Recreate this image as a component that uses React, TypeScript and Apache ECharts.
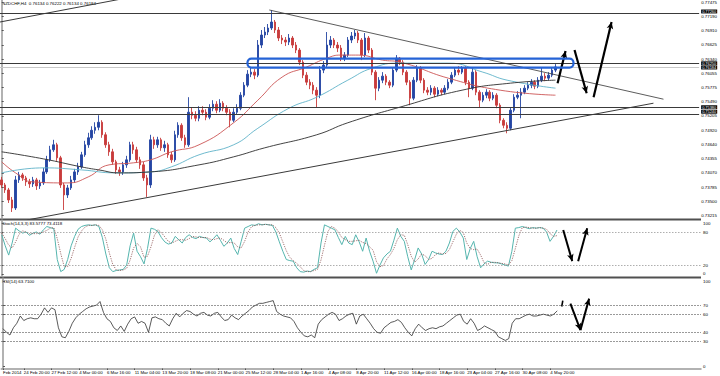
import React, { useEffect, useRef } from "react";
import * as echarts from "echarts";

const SLOTS = 202;
const firstOpen = 0.7393;
const closes = [
  0.7383, 0.7373, 0.7353, 0.7337, 0.7393, 0.7403, 0.7397, 0.7389, 0.7385, 0.7393,
  0.7381, 0.7387, 0.7409, 0.7433, 0.7453, 0.7463, 0.7437, 0.7383, 0.7363, 0.7377,
  0.7393, 0.7409, 0.7419, 0.7443, 0.7463, 0.7477, 0.7492, 0.7498, 0.7508, 0.7483,
  0.7463, 0.7449, 0.7429, 0.7413, 0.7409, 0.7423, 0.7433, 0.7463, 0.7453, 0.7433,
  0.7423, 0.7397, 0.7383, 0.7473, 0.7463, 0.7473, 0.7457, 0.7463, 0.7443, 0.7433,
  0.7483, 0.7502, 0.7477, 0.7463, 0.7528, 0.7522, 0.7516, 0.7532, 0.7528, 0.7518,
  0.7536, 0.7544, 0.7532, 0.7546, 0.7536, 0.7528, 0.7512, 0.7528, 0.7536, 0.7562,
  0.7582, 0.7604, 0.7608, 0.7602, 0.7662, 0.7682, 0.7688, 0.7696, 0.7708, 0.7692,
  0.7676, 0.7672, 0.7668, 0.7676, 0.7662, 0.7652, 0.7628, 0.7602, 0.7588, 0.7582,
  0.7572, 0.7562, 0.7612, 0.7622, 0.7662, 0.7672, 0.7662, 0.7656, 0.7636, 0.7642,
  0.7672, 0.768, 0.7686, 0.7672, 0.7642, 0.7676, 0.7652, 0.7608, 0.7576, 0.7592,
  0.76, 0.7588, 0.7582, 0.7612, 0.7636, 0.7628, 0.7608, 0.7588, 0.7556, 0.7592,
  0.7616, 0.7592, 0.7572, 0.7568, 0.7576, 0.7564, 0.7572, 0.7568, 0.7576, 0.7588,
  0.7602, 0.7612, 0.7608, 0.7616, 0.7588, 0.7576, 0.7608, 0.7568, 0.7552, 0.7562,
  0.7568, 0.7556, 0.7562, 0.7542, 0.7512, 0.7502, 0.7496, 0.7532, 0.7558, 0.7562,
  0.7568, 0.7576, 0.7582, 0.7588, 0.758, 0.7592, 0.76, 0.7596, 0.7602, 0.7612,
  0.76184,
];
const highs = [
  0.7399, 0.7387, 0.7377, 0.7359, 0.7401, 0.7409, 0.7407, 0.7401, 0.7395, 0.7399,
  0.7397, 0.7393, 0.7417, 0.7441, 0.7461, 0.7473, 0.7467, 0.7441, 0.7387, 0.7383,
  0.7401, 0.7415, 0.7427, 0.7449, 0.7471, 0.7487, 0.75, 0.7508, 0.7522, 0.7512,
  0.7488, 0.7469, 0.7455, 0.7433, 0.7419, 0.7429, 0.7441, 0.7469, 0.7469, 0.7459,
  0.7439, 0.7429, 0.7403, 0.7483, 0.7479, 0.7479, 0.7477, 0.7471, 0.7467, 0.7449,
  0.7491, 0.7508, 0.7506, 0.7483, 0.7558, 0.7538, 0.753, 0.754, 0.754, 0.7534,
  0.7544, 0.7552, 0.755, 0.7554, 0.755, 0.7542, 0.7534, 0.7536, 0.7544, 0.7568,
  0.7588, 0.7612, 0.7618, 0.7614, 0.7672, 0.7692, 0.7698, 0.7704, 0.7732, 0.7712,
  0.7698, 0.7682, 0.7678, 0.7684, 0.768, 0.7668, 0.7656, 0.7632, 0.7608, 0.7594,
  0.7588, 0.7578, 0.762, 0.763, 0.7688, 0.768, 0.7676, 0.7668, 0.7662, 0.7648,
  0.7678, 0.7688, 0.7692, 0.769, 0.7676, 0.7686, 0.768, 0.7656, 0.7612, 0.7598,
  0.7608, 0.7604, 0.7592, 0.7618, 0.7642, 0.7638, 0.7632, 0.7612, 0.7592, 0.7598,
  0.7622, 0.762, 0.7596, 0.7578, 0.7582, 0.758, 0.7578, 0.7576, 0.7582, 0.7594,
  0.7608, 0.7618, 0.762, 0.762, 0.762, 0.7592, 0.7616, 0.7612, 0.7572, 0.7568,
  0.7574, 0.7572, 0.7568, 0.7566, 0.7546, 0.7516, 0.7508, 0.7538, 0.7564, 0.757,
  0.7576, 0.7582, 0.7588, 0.7594, 0.7592, 0.7598, 0.7618, 0.7606, 0.7608, 0.7618,
  0.7624,
];
const lows = [
  0.7377, 0.7367, 0.7347, 0.7329, 0.7333, 0.7387, 0.7391, 0.7381, 0.7377, 0.7379,
  0.7373, 0.7375, 0.7383, 0.7405, 0.7429, 0.7449, 0.7431, 0.7377, 0.7333, 0.7357,
  0.7373, 0.7387, 0.7403, 0.7415, 0.7439, 0.7457, 0.7473, 0.7485, 0.7492, 0.7477,
  0.7457, 0.7441, 0.7423, 0.7405, 0.7401, 0.7403, 0.7417, 0.7429, 0.7445, 0.7427,
  0.7415, 0.7391, 0.7359, 0.7377, 0.7455, 0.7457, 0.7451, 0.7449, 0.7437, 0.7427,
  0.7429, 0.7477, 0.7471, 0.7457, 0.7459, 0.7514, 0.751, 0.751, 0.7522, 0.7512,
  0.7514, 0.753, 0.7526, 0.7528, 0.753, 0.7522, 0.7498, 0.7508, 0.7524, 0.7532,
  0.7558, 0.7578, 0.7598, 0.7594, 0.7598, 0.7656, 0.7676, 0.7682, 0.7692, 0.7686,
  0.767, 0.7664, 0.766, 0.7662, 0.7656, 0.7646, 0.7622, 0.7596, 0.7582, 0.7574,
  0.7564, 0.7538, 0.7556, 0.7606, 0.7618, 0.7656, 0.7656, 0.7648, 0.763, 0.763,
  0.7638, 0.7666, 0.7674, 0.7666, 0.7632, 0.7638, 0.7646, 0.7602, 0.7552, 0.757,
  0.7586, 0.7582, 0.7576, 0.7578, 0.7608, 0.7622, 0.7602, 0.7582, 0.7542, 0.7552,
  0.7588, 0.7586, 0.7566, 0.7562, 0.7562, 0.7558, 0.756, 0.7562, 0.7564, 0.7572,
  0.7584, 0.7598, 0.7602, 0.7604, 0.7582, 0.7558, 0.7572, 0.7562, 0.7538, 0.7548,
  0.7556, 0.755, 0.7552, 0.7536, 0.7506, 0.7496, 0.7486, 0.7492, 0.7528, 0.7554,
  0.7516, 0.7564, 0.7572, 0.7576, 0.7574, 0.7576, 0.7588, 0.759, 0.7592, 0.7598,
  0.7608,
];

// moving averages: [bar index, price]
const ma50 = [
  [0, 0.7429], [4, 0.7407], [9, 0.7389], [19, 0.7387], [25, 0.7399], [31, 0.7423],
  [38, 0.7427], [43, 0.7433], [49, 0.7449], [57, 0.7463], [67, 0.7507], [74, 0.7552],
  [81, 0.7598], [88, 0.7618], [94, 0.7636], [98, 0.7642], [103, 0.7642], [110, 0.7632],
  [115, 0.7628], [129, 0.7596], [144, 0.7572], [160, 0.7562],
];
const ma100 = [
  [0, 0.7407], [12, 0.7417], [23, 0.7413], [33, 0.7407], [43, 0.7409], [49, 0.7419],
  [57, 0.7443], [67, 0.7463], [74, 0.7496], [83, 0.7536], [91, 0.7558], [100, 0.7592],
  [107, 0.7616], [115, 0.7626], [129, 0.7626], [139, 0.7608], [146, 0.7592], [160, 0.7576],
];
const ma200 = [
  [0, 0.7449], [12, 0.7435], [23, 0.7419], [28, 0.7413], [34, 0.7407], [43, 0.7409],
  [57, 0.7423], [67, 0.7439], [76, 0.7457], [91, 0.7483], [100, 0.7507], [115, 0.7538],
  [133, 0.7572], [147, 0.7586], [160, 0.7592],
];

const stochK = [
  75, 55, 38, 60, 87, 82, 78, 80, 74, 78,
  80, 76, 84, 90, 88, 86, 30, 8, 12, 30,
  55, 72, 85, 90, 92, 93, 92, 93, 90, 70,
  40, 15, 8, 10, 11, 12, 20, 55, 78, 45,
  35, 22, 50, 87, 85, 81, 70, 62, 58, 60,
  72, 66, 60, 70, 75, 70, 68, 72, 70, 69,
  62, 68, 75, 65, 54, 60, 69, 50, 39, 63,
  87, 90, 93, 92, 95, 93, 94, 93, 92, 80,
  62, 45, 30, 28, 27, 15, 8, 7, 9, 8,
  12, 15, 60, 93, 90, 87, 84, 70, 57, 72,
  60, 57, 75, 62, 45, 69, 45, 27, 5, 20,
  33, 40, 45, 65, 87, 72, 63, 35, 11, 30,
  51, 40, 21, 30, 45, 42, 40, 39, 45, 60,
  81, 87, 80, 69, 30, 50, 63, 35, 15, 22,
  27, 25, 24, 24, 22, 20, 18, 45, 87, 88,
  90, 88, 86, 88, 87, 88, 87, 80, 63, 72,
  83.58,
];
const stochD = [
  78, 68, 56, 51, 62, 76, 82, 80, 77, 77,
  77, 78, 80, 83, 87, 88, 68, 41, 17, 17,
  32, 52, 71, 82, 89, 92, 92, 93, 92, 84,
  67, 42, 21, 11, 10, 11, 14, 29, 51, 59,
  53, 34, 36, 53, 74, 84, 79, 71, 63, 60,
  63, 66, 66, 65, 68, 72, 71, 70, 70, 70,
  67, 66, 68, 69, 65, 60, 61, 60, 53, 51,
  63, 80, 90, 92, 93, 93, 94, 93, 93, 88,
  78, 62, 46, 34, 28, 23, 17, 10, 8, 8,
  10, 12, 29, 56, 81, 90, 87, 80, 70, 66,
  63, 63, 64, 65, 61, 59, 53, 47, 26, 17,
  19, 31, 39, 50, 66, 75, 74, 57, 36, 25,
  31, 40, 37, 30, 32, 39, 42, 40, 41, 48,
  62, 76, 83, 79, 60, 50, 48, 49, 38, 24,
  21, 25, 25, 24, 23, 22, 20, 28, 50, 73,
  88, 89, 88, 87, 87, 88, 87, 85, 77, 72,
  73.41,
];
const rsi = [
  44, 40, 37, 45, 50, 58, 53, 55, 56, 55,
  55, 60, 67, 62, 67, 65, 45, 35, 34, 41,
  50, 56, 60, 63, 66, 68, 69, 70, 74, 62,
  55, 52, 45, 42, 47, 41, 49, 55, 57, 50,
  52, 50, 40, 56, 57, 55, 54, 50, 47, 55,
  61, 57, 61, 64, 63, 60, 58, 61, 62, 59,
  58, 61, 62, 57, 53, 54, 59, 56, 54, 58,
  61, 64, 68, 70, 72, 72, 73, 74, 75, 63,
  60, 58, 57, 56, 52, 45, 40, 36, 35, 37,
  34, 49, 54, 57, 60, 62, 60, 53, 55, 58,
  60, 61, 49, 58, 60, 55, 50, 44, 40, 39,
  45, 48, 51, 52, 54, 51, 45, 40, 36, 44,
  49, 45, 42, 44, 45, 44, 46, 47, 50, 53,
  56, 59, 60, 52, 49, 55, 50, 42, 44, 47,
  45, 43, 41, 35, 33, 31, 33, 50, 55, 55,
  57, 59, 60, 58, 58, 59, 60, 59, 58, 60,
  63.71,
];

const priceTicks = [
  0.77475, 0.7719, 0.7691, 0.76625, 0.7634, 0.76055, 0.75775, 0.7549,
  0.75205, 0.7492, 0.7464, 0.74355, 0.7407, 0.73785, 0.735, 0.73215,
];
// indicator scale labels; MT4 draws the 0 and 100 labels just inside the pane
const stochLabels = [["0", 4], ["20", 20], ["80", 80], ["100", 96]];
const rsiLabels = [["0", 2], ["30", 30], ["40", 40], ["60", 60], ["70", 70], ["100", 96]];
const xTickLabels = [
  "Feb 2014", "24 Feb 20:00", "27 Feb 12:00", "4 Mar 00:00", "6 Mar 16:00", "11 Mar 04:00",
  "13 Mar 20:00", "18 Mar 08:00", "21 Mar 00:00", "25 Mar 12:00", "28 Mar 04:00", "1 Apr 16:00",
  "4 Apr 08:00", "8 Apr 20:00", "11 Apr 12:00", "16 Apr 00:00", "18 Apr 16:00", "23 Apr 04:00",
  "27 Apr 16:00", "30 Apr 08:00", "4 May 20:00",
];
const xTickSlots = [0, 6, 14, 22, 30, 38, 46, 54, 62, 70, 78, 86, 94, 102, 110, 118, 126, 134, 142, 150, 158];

const hLevels = [0.7726, 0.7625, 0.7538, 0.7524];
const bid = 0.76184;
const trendDown = [[77.3, 0.7732], [191.2, 0.7554]];
const trendUp = [[7.3, 0.7313], [188.3, 0.7546]];
const trendTopLeft = [[-0.5, 0.7708], [40, 0.7761]];
const zoneBox = [[71, 0.7635], [165.2, 0.7617]];
const arrowsMain = [
  [[160.6, 0.7586], [162.9, 0.765]],
  [[165.5, 0.7652], [169, 0.7566]],
  [[171, 0.7558], [176.2, 0.7708]],
];
const arrowsStoch = [
  [[161.8, 83.6], [164.4, 27]],
  [[166.1, 27], [168.7, 87]],
];
const rsiTick = [[161.6, 75], [161.3, 68.5]];
const arrowsRsi = [
  [[163.8, 71.7], [166.7, 42.4]],
  [[166.7, 42.4], [169.2, 77.2]],
];

const FONT = "Liberation Sans";
const FS = 4.4;

export default function App() {
  const ref = useRef<HTMLDivElement>(null);
  useEffect(() => {
    if (!ref.current) return;
    const chart = echarts.init(ref.current, null, { renderer: "svg" });
    const cats = Array.from({ length: SLOTS }, (_, i) => String(i));
    const labelMap: Record<number, string> = {};
    xTickSlots.forEach((s, k) => (labelMap[s] = xTickLabels[k]));

    const candles = closes.map((c, i) => [i === 0 ? firstOpen : closes[i - 1], c, lows[i], highs[i]]);
    const idx = (arr: number[]) => arr.map((v, i) => [i, v]);
    const arrowML = (arr: number[][][], width: number) => ({
      silent: true,
      symbol: ["none", "arrow"],
      symbolSize: [5, 7],
      lineStyle: { color: "#000", width, type: "solid" },
      label: { show: false },
      emphasis: { disabled: true },
      data: arr.map((a) => [{ coord: a[0] }, { coord: a[1] }]),
    });
    const levelML = (vals: number[], color: string) => ({
      silent: true,
      symbol: ["none", "none"],
      lineStyle: { color, width: 0.8, type: [1.5, 1.5] },
      label: { show: false },
      emphasis: { disabled: true },
      data: vals.map((v) => ({ yAxis: v })),
    });
    const axisText = { fontSize: FS, lineHeight: FS, color: "#000", fontFamily: FONT };
    const valX = (gridIndex: number) => ({
      type: "value", gridIndex, min: -0.5, max: SLOTS - 0.5, show: false,
    });
    const lineBase = { type: "line", showSymbol: false, silent: true, animation: false };
    const indAxis = (gridIndex: number, labels: any[]) => {
      const vals = labels.map((l) => l[1] as number);
      const names: Record<string, string> = {};
      labels.forEach((l) => (names[String(l[1])] = l[0]));
      return {
        type: "value", gridIndex, position: "right", min: 0, max: 100,
        axisLine: { show: true, lineStyle: { color: "#999", width: 1.5 } },
        axisTick: { show: true, length: 2, customValues: vals, lineStyle: { color: "#555" } },
        axisLabel: { ...axisText, margin: 2, customValues: vals, formatter: (v: number) => names[String(v)] ?? "" },
        splitLine: { show: false },
      };
    };
    // small vertical nudges so the price boxes sit like MT4's without covering axis labels
    const boxNudge: Record<string, number> = { "0.7726": -1.5, "0.7625": -0.3, "0.7524": -2.5 };

    const option: any = {
      animation: false,
      backgroundColor: "#fff",
      grid: [
        { left: 0, right: 19, top: 0, height: 219 },
        { left: 0, right: 19, top: 221, height: 55 },
        { left: 0, right: 19, top: 278, height: 90.5 },
      ],
      xAxis: [
        { type: "category", gridIndex: 0, data: cats, show: false },
        valX(0),
        valX(1),
        {
          type: "category", gridIndex: 2, data: cats, position: "bottom",
          axisLine: { show: true, lineStyle: { color: "#999", width: 1.5 } },
          axisTick: { show: true, length: 1.5, alignWithLabel: true, interval: (i: number) => labelMap[i] !== undefined, lineStyle: { color: "#555" } },
          axisLabel: { ...axisText, interval: 0, align: "left", margin: 2, formatter: (_v: string, i: number) => labelMap[i] ?? "" },
          splitLine: { show: false },
        },
        valX(2),
      ],
      yAxis: [
        {
          type: "value", gridIndex: 0, position: "right", min: 0.7315, max: 0.77515,
          axisLine: { show: true, lineStyle: { color: "#999", width: 1.5 } },
          axisTick: { show: true, length: 2, customValues: priceTicks, lineStyle: { color: "#555" } },
          axisLabel: { ...axisText, margin: 2, customValues: priceTicks, formatter: (v: number) => v.toFixed(5) },
          splitLine: { show: false },
        },
        indAxis(1, stochLabels),
        indAxis(2, rsiLabels),
      ],
      series: [
        {
          type: "candlestick", xAxisIndex: 0, yAxisIndex: 0, data: candles, barWidth: 2, silent: true,
          itemStyle: { color: "#2445a3", color0: "#c83b3b", borderColor: "#2445a3", borderColor0: "#c83b3b", borderWidth: 0.9 },
        },
        {
          ...lineBase, xAxisIndex: 1, yAxisIndex: 0, data: ma50, smooth: true, lineStyle: { color: "#cc5555", width: 0.9 },
          markLine: {
            silent: true, symbol: ["none", "none"], precision: 5,
            emphasis: { disabled: true },
            label: {
              show: true, position: "end", distance: 2, formatter: (p: any) => Number(p.value).toFixed(5),
              backgroundColor: "#000", color: "#fff", fontSize: 3.9, lineHeight: 3.9, fontFamily: FONT, padding: [0, 1],
            },
            data: [
              ...hLevels.map((v) => ({
                yAxis: v,
                lineStyle: { color: "#3a3a3a", width: 1, type: "solid" },
                label: { offset: [0, boxNudge[String(v)] ?? 0] },
              })),
              { yAxis: bid, lineStyle: { color: "#c8c8c8", width: 1, type: "solid" }, label: { offset: [0, 0.6] } },
            ],
          },
        },
        { ...lineBase, xAxisIndex: 1, yAxisIndex: 0, data: ma100, smooth: true, lineStyle: { color: "#5fb2c8", width: 0.9 } },
        { ...lineBase, xAxisIndex: 1, yAxisIndex: 0, data: ma200, smooth: true, lineStyle: { color: "#2e2e2e", width: 0.9 } },
        {
          ...lineBase, xAxisIndex: 1, yAxisIndex: 0, data: trendDown, lineStyle: { color: "#4a4a4a", width: 0.9 },
          markLine: arrowML(arrowsMain, 2.2),
        },
        { ...lineBase, xAxisIndex: 1, yAxisIndex: 0, data: trendUp, lineStyle: { color: "#3a3a3a", width: 1 } },
        { ...lineBase, xAxisIndex: 1, yAxisIndex: 0, data: trendTopLeft, lineStyle: { color: "#3a3a3a", width: 1 } },
        {
          ...lineBase, xAxisIndex: 2, yAxisIndex: 1, data: idx(stochK), lineStyle: { color: "#55b5ae", width: 1 },
          markLine: levelML([20, 80], "#9a9a9a"),
        },
        {
          ...lineBase, xAxisIndex: 2, yAxisIndex: 1, data: idx(stochD), lineStyle: { color: "#8a4f4f", width: 0.8, type: [1.2, 1.2] },
          markLine: arrowML(arrowsStoch, 2),
        },
        {
          ...lineBase, xAxisIndex: 4, yAxisIndex: 2, data: idx(rsi), lineStyle: { color: "#303030", width: 0.8 },
          markLine: levelML([30, 40, 60, 70], "#555"),
        },
        {
          ...lineBase, xAxisIndex: 4, yAxisIndex: 2, data: rsiTick, lineStyle: { color: "#000", width: 1.6 },
          markLine: arrowML(arrowsRsi, 2),
        },
      ],
      graphic: [
        { type: "line", shape: { x1: 0, y1: 219.5, x2: 701, y2: 219.5 }, style: { stroke: "#505050", lineWidth: 2 }, silent: true },
        { type: "line", shape: { x1: 0, y1: 277.5, x2: 701, y2: 277.5 }, style: { stroke: "#505050", lineWidth: 2 }, silent: true },
        { type: "text", x: 2, y: 1, style: { text: "NZDCHF,H4  0.76134 0.76222 0.76134 0.76184", fontSize: FS, fill: "#000", fontFamily: FONT }, silent: true },
        { type: "text", x: 2, y: 221.5, style: { text: "Stoch(14,3,3) 83.5777 73.4118", fontSize: FS, fill: "#000", fontFamily: FONT }, silent: true },
        { type: "text", x: 2, y: 279.5, style: { text: "RSI(14) 63.7100", fontSize: FS, fill: "#000", fontFamily: FONT }, silent: true },
      ],
    };
    chart.setOption(option);

    const p1 = chart.convertToPixel({ seriesIndex: 4 }, zoneBox[0]) as number[];
    const p2 = chart.convertToPixel({ seriesIndex: 4 }, zoneBox[1]) as number[];
    if (p1 && p2) {
      chart.setOption({
        graphic: [
          ...option.graphic,
          {
            type: "rect", silent: true, z: 20,
            shape: { x: p1[0], y: p1[1], width: p2[0] - p1[0], height: p2[1] - p1[1], r: 4 },
            style: { fill: "none", stroke: "#2563d6", lineWidth: 2.2 },
          },
        ],
      });
    }
    return () => chart.dispose();
  }, []);
  return (
    <div
      ref={ref}
      style={{ position: "fixed", left: 0, top: 0, width: 720, height: 376, background: "#fff" }}
    />
  );
}
